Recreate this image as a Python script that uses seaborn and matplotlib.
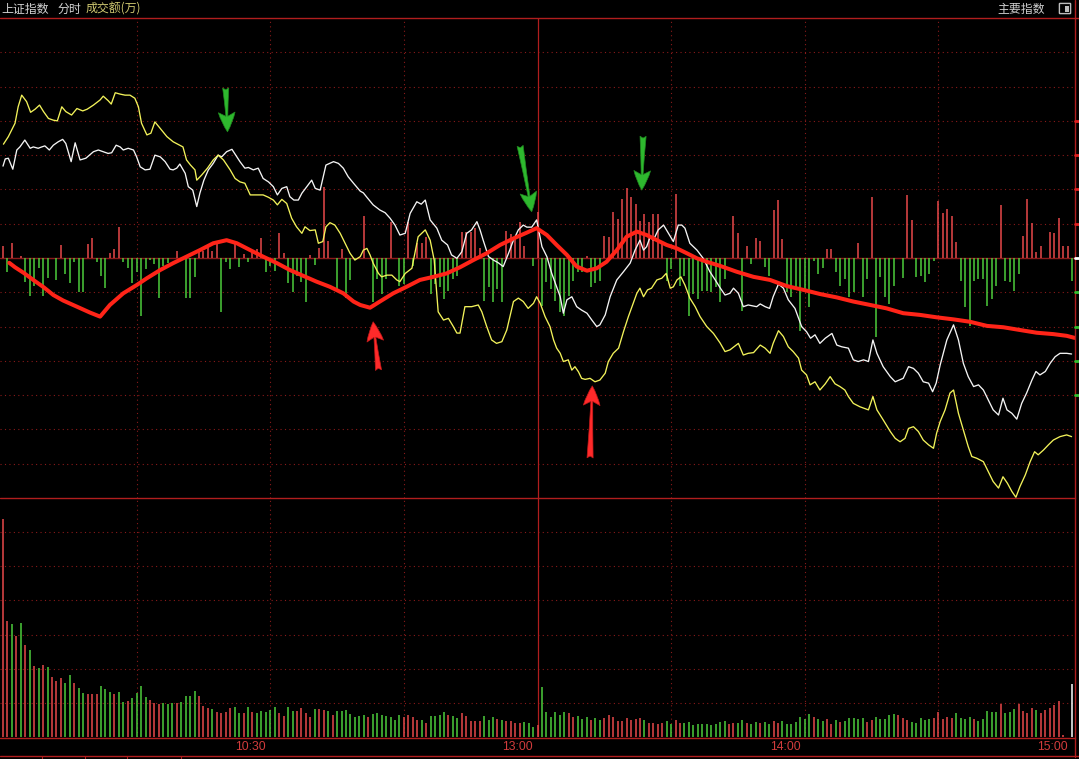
import numpy as np
import pandas as pd
import matplotlib
matplotlib.use("Agg")
import matplotlib.pyplot as plt
from matplotlib.patches import FancyBboxPatch, Rectangle, Arc
import seaborn as sns

sns.set_style("dark", {"axes.facecolor": "black", "figure.facecolor": "black"})
plt.rcParams["font.family"] = ["Noto Sans CJK SC", "DejaVu Sans"]

# ---- data: minutes after 09:30 (120 = 11:30/13:00, 240 = 15:00) ----
WHITE_T = [0, 0.5, 1.2, 2.2, 3.1, 3.8, 4.9, 6.1, 6.8, 7.9, 8.7, 9.4, 10.4, 11.3, 12.4, 13.4, 14.1,
           15.3, 16.2, 17.3, 18.6, 20.3, 21.4, 22.5, 23.6, 24.4, 25.4, 26.3, 27.0, 28.1, 29.3, 30.0,
           30.8, 31.9, 33.0, 34.1, 35.3, 36.4, 37.5, 38.2, 39.0, 39.7, 40.9, 41.6, 42.6, 43.5, 44.2,
           45.1, 46.1, 47.2, 48.3, 49.1, 50.2, 51.4, 52.5, 53.2, 54.3, 55.1, 56.2, 57.3, 58.4, 59.6,
           60.7, 61.6, 62.6, 63.7, 64.4, 65.3, 66.3, 67.1, 68.2, 69.3, 70.1, 71.2, 72.5, 74.2, 75.3,
           76.4, 77.5, 78.7, 80.2, 80.9, 81.7, 83.1, 84.6, 85.8, 86.9, 88.0, 89.1, 90.3, 91.4, 92.9,
           93.9, 94.8, 95.9, 97.4, 98.5, 99.8, 100.7, 101.9, 103.0, 104.1, 105.2, 106.4, 107.1, 107.8,
           109.0, 110.1, 111.2, 112.3, 113.5, 114.6, 115.7, 116.8, 117.6, 118.7, 119.8, 121.0, 122.1,
           123.2, 124.3, 125.1, 125.8, 126.6, 127.7, 128.8, 129.9, 131.1, 132.2, 133.3, 134.0, 135.2,
           136.3, 137.8, 139.3, 140.8, 141.9, 143.0, 143.8, 144.5, 145.3, 146.0, 147.1, 148.3, 149.4,
           150.5, 151.6, 152.4, 153.1, 154.2, 155.8, 157.2, 158.7, 159.9, 161.0, 162.1, 163.2, 164.0,
           165.1, 166.2, 167.3, 168.5, 169.2, 170.0, 171.1, 172.1, 172.9, 174.1, 175.2, 176.3, 177.8,
           179.3, 180.4, 181.3, 182.3, 183.4, 184.6, 186.1, 187.2, 188.3, 189.8, 190.9, 192.0, 193.2,
           194.3, 195.3, 196.2, 197.6, 199.2, 200.3, 202.1, 203.3, 204.4, 205.5, 206.6, 207.8, 208.7,
           209.5, 210.4, 211.9, 213.4, 214.5, 215.6, 216.7, 217.9, 219.0, 220.1, 221.2, 222.3, 223.5,
           224.5, 225.4, 226.5, 227.6, 228.7, 229.8, 231.0, 231.9, 232.8, 234.0, 235.1, 236.2, 237.3,
           238.8, 239.9]
WHITE_V = [2.68, 2.89, 2.91, 2.59, 3.15, 3.24, 3.44, 3.20, 3.24, 3.20, 3.24, 3.27, 3.15, 3.29, 3.39,
           3.46, 3.34, 2.81, 3.36, 2.86, 2.91, 3.10, 3.15, 3.10, 3.05, 3.07, 3.29, 3.24, 3.15, 3.20,
           3.15, 2.95, 2.66, 2.57, 2.59, 3.00, 2.95, 2.81, 2.59, 2.57, 2.62, 2.74, 2.47, 2.08, 1.98,
           1.50, 1.89, 2.27, 2.57, 2.76, 3.00, 2.95, 3.10, 3.17, 2.95, 2.81, 2.62, 2.64, 2.57, 2.62,
           2.32, 2.22, 2.08, 1.84, 2.03, 2.08, 1.79, 1.69, 1.69, 1.89, 2.08, 2.27, 2.03, 1.98, 2.71,
           2.81, 2.76, 2.62, 2.37, 2.18, 1.95, 1.90, 1.77, 1.55, 1.40, 1.32, 1.16, 0.96, 0.67, 0.72,
           1.30, 1.64, 1.57, 1.69, 1.11, 0.87, 0.52, 0.38, 0.09, -0.01, 0.18, 0.72, 0.82, 1.06, 0.82,
           0.52, 0.04, -0.06, -0.14, -0.25, 0.14, 0.52, 0.82, 0.96, 0.90, 0.90, 1.11, 0.33, 0.04,
           -0.45, -0.84, -1.13, -1.61, -1.22, -1.13, -1.42, -1.52, -1.61, -1.81, -2.00, -1.95, -1.66,
           -1.13, -0.64, -0.40, -0.15, 0.23, 0.52, 0.23, 0.33, 0.62, 0.52, 0.82, 0.96, 0.72, 0.48,
           0.96, 0.96, 0.87, 0.43, 0.23, -0.01, -0.40, -0.64, -0.87, -1.08, -1.03, -0.88, -1.03,
           -1.42, -1.37, -1.40, -1.42, -1.34, -1.42, -1.47, -1.13, -0.76, -0.88, -1.22, -1.47, -2.00,
           -2.15, -2.34, -2.24, -2.49, -2.34, -2.20, -2.54, -2.59, -2.63, -2.97, -3.02, -2.97, -3.02,
           -2.39, -2.78, -3.17, -3.46, -3.61, -3.51, -3.17, -3.22, -3.36, -3.61, -3.65, -3.90, -3.65,
           -3.12, -2.39, -1.95, -2.39, -3.07, -3.46, -3.75, -3.70, -3.85, -4.14, -4.43, -4.58, -4.09,
           -4.43, -4.53, -4.70, -4.24, -3.94, -3.56, -3.31, -3.41, -3.31, -3.07, -2.88, -2.78, -2.78,
           -2.80]

YELLOW_T = [0.1, 1.2, 2.7, 3.4, 4.2, 5.3, 6.2, 7.2, 8.2, 9.1, 10.2, 11.3, 12.2, 13.2, 14.1, 15.4,
            16.6, 17.9, 18.9, 20.3, 21.8, 22.5, 23.6, 24.3, 25.2, 26.3, 27.4, 28.5, 29.6, 30.4,
            31.1, 32.3, 33.2, 34.1, 35.3, 36.8, 38.2, 40.4, 41.2, 42.1, 43.1, 43.5, 44.6, 45.9,
            47.2, 48.3, 49.5, 51.0, 52.1, 53.2, 54.3, 55.5, 57.0, 58.4, 59.6, 60.7, 61.6, 62.6,
            63.7, 64.8, 65.9, 67.1, 67.8, 68.9, 70.1, 70.8, 71.8, 72.5, 73.4, 74.5, 75.7, 76.8,
            77.9, 79.0, 80.2, 80.9, 81.7, 82.4, 83.1, 84.3, 85.0, 86.2, 87.3, 88.4, 89.1, 90.3,
            91.8, 93.2, 94.8, 95.9, 96.8, 97.7, 98.9, 100.0, 101.1, 101.9, 102.6, 103.7, 105.2,
            106.7, 107.5, 108.6, 109.7, 110.8, 112.0, 113.1, 114.6, 115.7, 116.8, 117.9, 119.1,
            119.8, 120.6, 121.7, 122.8, 123.6, 124.3, 125.1, 125.8, 126.9, 127.7, 128.4, 129.2,
            129.9, 130.7, 131.8, 132.9, 134.0, 135.2, 135.9, 137.0, 138.2, 139.3, 140.4, 141.5,
            142.3, 143.0, 143.8, 144.7, 145.6, 146.8, 147.9, 148.9, 149.8, 150.5, 151.3, 152.2,
            153.1, 154.2, 155.4, 156.5, 158.0, 159.5, 161.0, 162.1, 163.2, 165.1, 166.2, 167.3,
            168.5, 170.0, 171.1, 172.2, 172.9, 174.1, 175.2, 176.3, 177.4, 178.6, 179.3, 180.4,
            181.2, 182.3, 183.4, 184.6, 185.7, 186.8, 187.9, 189.0, 189.8, 190.9, 192.4, 194.3,
            195.3, 196.2, 197.6, 199.2, 200.3, 201.4, 202.5, 203.3, 204.4, 205.5, 206.6, 207.8,
            208.9, 209.6, 210.4, 211.5, 212.6, 213.4, 214.5, 215.6, 216.7, 217.5, 218.6, 220.1,
            221.2, 222.3, 223.5, 224.5, 225.5, 226.5, 227.4, 228.3, 229.5, 230.6, 231.6, 232.4,
            233.6, 234.7, 235.8, 237.3, 238.8, 239.9]
YELLOW_V = [3.32, 3.54, 3.93, 4.41, 4.75, 4.56, 4.25, 4.34, 4.46, 4.27, 4.07, 4.02, 4.00, 4.41,
            4.27, 4.17, 4.36, 4.29, 4.34, 4.46, 4.61, 4.72, 4.59, 4.49, 4.82, 4.78, 4.75, 4.75,
            4.66, 4.41, 3.93, 3.59, 3.64, 3.97, 3.78, 3.54, 3.39, 3.24, 2.86, 2.71, 2.57, 2.27,
            2.42, 2.62, 2.86, 3.00, 2.86, 2.57, 2.32, 2.22, 2.18, 1.84, 1.84, 1.84, 1.77, 1.69,
            1.55, 1.71, 1.59, 1.16, 0.91, 0.72, 0.91, 0.80, 0.82, 0.43, 0.48, 0.91, 1.03, 0.96,
            0.72, 0.43, 0.14, -0.06, 0.04, 0.23, 0.28, 0.09, -0.15, -0.45, -0.55, -0.50, -0.50,
            -0.64, -0.69, -0.45, -0.30, 0.62, 0.82, 0.52, -0.06, -1.57, -1.81, -1.76, -2.00, -2.19,
            -2.19, -1.42, -1.42, -1.37, -1.57, -2.00, -2.39, -2.49, -2.44, -2.10, -1.27, -1.17,
            -1.27, -1.47, -1.32, -1.13, -1.32, -1.71, -2.00, -2.39, -2.63, -2.78, -3.02, -2.97,
            -3.27, -3.17, -3.32, -3.51, -3.54, -3.51, -3.61, -3.56, -3.36, -3.02, -2.78, -2.63,
            -2.15, -1.71, -1.32, -1.03, -0.88, -1.13, -0.93, -0.88, -0.64, -0.59, -0.45, -0.88,
            -0.84, -0.64, -0.55, -0.79, -1.17, -1.42, -1.71, -2.00, -2.20, -2.48, -2.73, -2.68,
            -2.49, -2.83, -2.78, -2.76, -2.54, -2.63, -2.78, -2.49, -2.12, -2.29, -2.59, -2.73,
            -2.92, -3.27, -3.41, -3.70, -3.61, -3.85, -3.67, -3.46, -3.67, -3.75, -3.85, -4.04,
            -4.24, -4.34, -4.43, -4.04, -4.43, -4.72, -5.06, -5.26, -5.36, -5.26, -4.97, -4.92,
            -5.06, -5.31, -5.45, -5.55, -5.11, -4.77, -4.43, -3.94, -3.85, -4.53, -5.01, -5.50,
            -5.79, -5.84, -5.94, -6.23, -6.52, -6.71, -6.38, -6.57, -6.81, -6.98, -6.67, -6.33,
            -5.94, -5.65, -5.74, -5.60, -5.45, -5.31, -5.21, -5.16, -5.21]

RED_T = [1.4, 2.7, 4.6, 6.8, 9.1, 11.3, 13.5, 16.6, 19.5, 21.8, 24.0, 27.0, 30.0, 32.3, 35.3, 38.2,
         41.2, 44.2, 47.2, 50.2, 52.5, 55.5, 58.4, 61.5, 64.4, 67.4, 70.4, 73.4, 76.4, 78.7, 80.2,
         82.4, 84.6, 87.6, 90.6, 93.6, 96.6, 99.6, 102.6, 105.6, 108.6, 111.6, 114.6, 117.6,
         119.8, 122.1, 124.3, 126.6, 128.8, 131.1, 133.3, 135.5, 137.8, 140.0, 142.3, 144.5,
         146.8, 149.0, 151.3, 153.5, 155.8, 158.0, 161.0, 164.7, 168.5, 172.2, 176.0, 179.7,
         183.4, 187.2, 190.9, 194.7, 198.4, 202.1, 205.9, 209.6, 213.4, 217.1, 220.9, 224.6,
         228.3, 232.1, 235.8, 238.8, 240.6]
RED_V = [-0.14, -0.27, -0.43, -0.64, -0.85, -1.08, -1.24, -1.42, -1.59, -1.71, -1.37, -1.03, -0.79,
         -0.59, -0.35, -0.15, 0.04, 0.23, 0.43, 0.52, 0.43, 0.23, 0.04, -0.15, -0.35, -0.52, -0.69,
         -0.84, -1.03, -1.27, -1.37, -1.45, -1.27, -1.03, -0.84, -0.64, -0.55, -0.45, -0.27, -0.06,
         0.14, 0.38, 0.57, 0.74, 0.87, 0.67, 0.38, 0.09, -0.25, -0.37, -0.30, -0.11, 0.23, 0.62,
         0.77, 0.67, 0.52, 0.38, 0.28, 0.14, -0.01, -0.11, -0.23, -0.40, -0.55, -0.64, -0.82, -0.93,
         -1.05, -1.15, -1.27, -1.37, -1.47, -1.61, -1.66, -1.73, -1.79, -1.86, -1.98, -2.02, -2.10,
         -2.18, -2.22, -2.27, -2.33]

UP_T = [0, 2, 4, 13, 19, 20, 24, 25, 26, 39, 44, 45, 46, 47, 48, 52, 54, 56, 57, 58, 62, 63, 69,
        71, 72, 73, 76, 81, 87, 91, 93, 94, 95, 103, 104, 105, 106, 107, 113, 114, 115, 116, 117,
        120, 131, 135, 136, 137, 138, 139, 140, 141, 142, 143, 144, 145, 146, 147, 148, 151, 164,
        165, 167, 169, 170, 173, 174, 175, 185, 186, 192, 195, 203, 204, 210, 211, 212, 213, 214,
        224, 229, 230, 231, 232, 233, 235, 236, 237, 238, 239]
UP_V = [0.34, 0.44, 0.07, 0.38, 0.41, 0.58, 0.15, 0.26, 0.89, 0.21, 0.17, 0.21, 0.38, 0.21, 0.46,
        0.46, 0.12, 0.21, 0.26, 0.57, 0.73, 0.15, 0.10, 0.28, 2.07, 0.50, 0.26, 1.23, 1.04, 1.04,
        0.44, 0.44, 0.60, 0.77, 0.75, 0.75, 0.87, 0.28, 0.80, 0.70, 0.55, 1.04, 0.36, 1.33, 0.07,
        0.65, 0.60, 1.33, 1.14, 1.72, 2.03, 1.77, 1.57, 1.09, 1.28, 1.04, 1.28, 1.28, 0.41, 1.87,
        1.23, 0.73, 0.36, 0.57, 0.50, 1.40, 1.69, 0.55, 0.26, 0.26, 0.44, 1.79, 1.84, 1.12, 1.65,
        1.31, 1.43, 1.23, 0.48, 1.55, 0.63, 1.72, 1.01, 0.18, 0.36, 0.75, 0.73, 1.16, 0.36, 0.36]

DOWN_T = [1, 5, 6, 7, 8, 9, 10, 12, 14, 15, 16, 17, 18, 21, 22, 23, 27, 28, 29, 30, 31, 32, 33, 34,
          35, 36, 37, 41, 42, 43, 49, 50, 51, 53, 55, 59, 60, 61, 64, 65, 66, 67, 68, 70, 75, 77,
          78, 79, 83, 84, 85, 86, 89, 90, 92, 96, 97, 98, 99, 100, 101, 102, 108, 109, 110, 111,
          112, 119, 121, 122, 123, 124, 125, 126, 127, 128, 129, 130, 132, 133, 134, 149, 150,
          152, 153, 154, 155, 156, 157, 158, 159, 160, 161, 162, 166, 168, 171, 172, 176, 177,
          178, 179, 180, 181, 182, 183, 184, 187, 188, 189, 190, 191, 193, 194, 196, 197, 198,
          199, 200, 202, 205, 206, 207, 208, 209, 215, 216, 217, 218, 219, 220, 221, 222, 223,
          225, 226, 227, 228, 240]
DOWN_V = [-0.40, -0.69, -1.12, -0.81, -0.30, -1.12, -0.59, -0.63, -0.47, -0.73, -0.11, -0.98, -0.98,
          -0.11, -0.53, -0.88, -0.11, -0.30, -0.73, -0.40, -1.70, -0.32, -0.06, -0.17, -1.17,
          -0.24, -0.15, -1.17, -1.17, -0.56, -1.58, -0.11, -0.32, -0.27, -0.13, -0.42, -0.24,
          -0.37, -0.73, -1.00, -0.53, -0.69, -1.27, -0.20, -0.90, -1.17, -0.63, -0.05, -1.29,
          -0.61, -1.05, -0.61, -0.81, -0.76, -0.24, -1.05, -0.76, -0.85, -1.20, -0.95, -0.61,
          -0.52, -1.24, -0.85, -1.29, -0.90, -1.29, -0.24, -1.39, -0.71, -0.90, -1.24, -1.58,
          -1.68, -1.10, -0.66, -0.42, -0.42, -0.85, -0.73, -0.66, -0.66, -0.32, -0.81, -0.52,
          -1.68, -1.05, -1.20, -0.95, -0.95, -1.00, -0.85, -1.29, -0.61, -1.54, -0.17, -0.27,
          -0.52, -1.00, -1.15, -0.85, -2.12, -0.90, -1.44, -0.08, -0.47, -0.30, -0.42, -0.81,
          -0.61, -1.15, -1.00, -1.15, -0.61, -2.31, -0.56, -1.15, -1.34, -0.81, -0.59, -0.56,
          -0.52, -0.71, -0.47, -0.08, -0.66, -1.44, -1.97, -0.66, -0.61, -0.61, -1.39, -1.20,
          -0.81, -0.66, -0.71, -0.95, -0.47, -0.66]

VOLUME = [6.39, 3.40, 3.31, 2.97, 3.34, 2.70, 2.55, 2.08, 2.01, 2.11,
          2.04, 1.76, 1.64, 1.72, 1.58, 1.82, 1.58, 1.44, 1.29, 1.26,
          1.26, 1.26, 1.50, 1.41, 1.32, 1.26, 1.32, 1.03, 1.06, 1.14,
          1.29, 1.50, 1.17, 1.08, 1.00, 0.97, 1.00, 0.97, 1.00, 1.00,
          1.03, 1.20, 1.20, 1.35, 1.20, 0.91, 0.85, 0.82, 0.73, 0.70,
          0.73, 0.85, 0.88, 0.70, 0.70, 0.88, 0.73, 0.70, 0.76, 0.73,
          0.79, 0.88, 0.70, 0.62, 0.88, 0.76, 0.76, 0.85, 0.70, 0.59,
          0.82, 0.82, 0.79, 0.76, 0.65, 0.76, 0.76, 0.79, 0.67, 0.59,
          0.62,
          0.65, 0.58, 0.67, 0.69, 0.65, 0.62, 0.58, 0.50, 0.65, 0.58,
          0.65, 0.58, 0.50, 0.50, 0.40, 0.62, 0.62, 0.65, 0.73, 0.65,
          0.62, 0.55, 0.69, 0.62, 0.47, 0.47, 0.47, 0.62, 0.50, 0.58,
          0.52, 0.50, 0.47, 0.47, 0.42, 0.42, 0.44, 0.42, 0.30, 0.35,
          1.46, 0.73, 0.58, 0.73, 0.65, 0.73, 0.69, 0.58, 0.62, 0.52,
          0.58, 0.50, 0.55, 0.50, 0.55, 0.65, 0.58, 0.47, 0.47, 0.55,
          0.50, 0.52, 0.55, 0.49, 0.42, 0.42, 0.38, 0.42, 0.47, 0.38,
          0.49, 0.42, 0.42, 0.44, 0.35, 0.38, 0.38, 0.38, 0.35, 0.38,
          0.44, 0.47, 0.38, 0.42, 0.42, 0.50, 0.42, 0.38, 0.44, 0.42,
          0.44, 0.38, 0.47, 0.42, 0.47, 0.38, 0.38, 0.44, 0.58, 0.52,
          0.67, 0.58, 0.52, 0.47, 0.52, 0.38, 0.50, 0.44, 0.47, 0.55,
          0.55, 0.52, 0.55, 0.44, 0.50, 0.58, 0.52, 0.52, 0.65, 0.67,
          0.65, 0.55, 0.50, 0.44, 0.40, 0.55, 0.50, 0.52, 0.55, 0.73,
          0.52, 0.58, 0.55, 0.69, 0.55, 0.52, 0.58, 0.52, 0.47, 0.52,
          0.76, 0.73, 0.73, 0.97, 0.69, 0.73, 0.81, 0.97, 0.76, 0.69,
          0.84, 0.79, 0.69, 0.79, 0.84, 0.94, 1.05, 0.06, 0.00, 1.55]
VOLUME_COLOR = ("rrgrgrgrgr" "grrrggrggr" "rrgggrggrg" "gggrrrgggr" "ggggrrrgrr"
                "rrggrgrggg" "ggrrggrrrr" "grrgrggggg" "g"
                "grgggggggr" "rrrgrggggr" "ggrrrrrggg" "rgrrrrgggr"
                "ggggggrrgg" "grggrrrrrr" "rrrgrrrrgg" "rrgggggggg" "ggrrggrggr"
                "ggrrgggggg" "grggrrgrgg" "gggrrggggg" "rrrgggggrr" "rrrggggrgg"
                "gggrgggrrr" "rgrrrrrr" "r" "w")

TIME_TICKS = [60, 120, 180, 240]
TIME_LABELS = ["10:30", "13:00", "14:00", "15:00"]

# hand-drawn arrows: (tail minute, tail value, tip minute, tip value)
ARROWS_DOWN = [(50.0, 4.96, 50.4, 3.68), (116.1, 3.27, 118.7, 1.35), (143.7, 3.55, 143.4, 1.98)]
ARROWS_UP = [(84.3, -3.27, 83.1, -1.86), (131.8, -5.83, 132.3, -3.73)]

# ---- colours ----
BG = "black"
GRID = "#8a1a1a"
FRAME = "#b01e1e"
BAR_RED = "#e8484a"
BAR_GREEN = "#4ccc3c"
W, H = 1079, 759

fig = plt.figure(figsize=(W / 100, H / 100), dpi=100, facecolor=BG)
XL = (-0.674, 240.67)


def panel(top, bottom):
    return fig.add_axes([0, 1 - bottom / H, 1075 / W, (bottom - top) / H])


def grid(ax, rows):
    for r in rows:
        ax.axhline(r, color=GRID, lw=0.8, ls=(0, (1, 3)), zorder=0)
    for c in (30, 60, 90, 150, 180, 210):
        ax.axvline(c, color=GRID, lw=0.8, ls=(0, (1, 3)), zorder=0)
    ax.axvline(120, color=FRAME, lw=0.9, zorder=0)
    ax.set_xlim(*XL)
    ax.set_xticks([]); ax.set_yticks([])
    for s in ax.spines.values():
        s.set_visible(False)
    ax.set_facecolor(BG)


# ---- main (price) panel ----
ax = panel(18, 498)
ax.set_ylim(-7, 7)
grid(ax, [r for r in range(-6, 7) if r != 0])
ax.axhline(0, color=GRID, lw=1.0, zorder=0)
ax.vlines(UP_T, 0, UP_V, colors=BAR_RED, lw=1.1, zorder=1)
ax.vlines(DOWN_T, 0, DOWN_V, colors=BAR_GREEN, lw=1.1, zorder=1)
sns.lineplot(x=WHITE_T, y=WHITE_V, ax=ax, color="#f4f4f4", lw=0.95, estimator=None, zorder=3)
sns.lineplot(x=YELLOW_T, y=YELLOW_V, ax=ax, color="#f2f25a", lw=0.95, estimator=None, zorder=3)
sns.lineplot(x=RED_T, y=RED_V, ax=ax, color="#ff2418", lw=2.9, estimator=None, zorder=4)
ax.set_xlim(*XL); ax.set_ylim(-7, 7)
ax.set_xlabel(""); ax.set_ylabel("")

ARROW = "fancy,head_length=0.7,head_width=0.6,tail_width=0.22"
for x0, y0, x1, y1 in ARROWS_DOWN:
    ax.annotate("", xy=(x1, y1), xytext=(x0, y0), zorder=6,
                arrowprops=dict(arrowstyle=ARROW, fc="#2eb82e", ec="#1f8a1f", lw=0.5,
                                shrinkA=0, shrinkB=0, mutation_scale=20))
for x0, y0, x1, y1 in ARROWS_UP:
    ax.annotate("", xy=(x1, y1), xytext=(x0, y0), zorder=6,
                arrowprops=dict(arrowstyle=ARROW, fc="#ff2a2a", ec="#c01818", lw=0.5,
                                shrinkA=0, shrinkB=0, mutation_scale=20))

# ---- volume panel ----
av = panel(498, 737)
av.set_ylim(0, 7)
grid(av, range(1, 7))
cmap = {"r": BAR_RED, "g": BAR_GREEN, "w": "white"}
minutes = np.arange(len(VOLUME))
av.vlines(minutes, 0, VOLUME, colors=[cmap[c] for c in VOLUME_COLOR], lw=1.1, zorder=2)

# ---- frame, header and time axis (pixel overlay) ----
ov = fig.add_axes([0, 0, 1, 1], zorder=10)
ov.set_xlim(0, W); ov.set_ylim(H, 0); ov.axis("off"); ov.patch.set_alpha(0)
ov.plot([0, W], [18, 18], color=FRAME, lw=1.0)
ov.plot([1075, 1075], [0, 757], color=FRAME, lw=1.0)
ov.plot([0, 1075], [498, 498], color=FRAME, lw=1.0)
ov.plot([0, 1075], [737.5, 737.5], color=FRAME, lw=1.0)
ov.plot([0, W], [756, 756], color=FRAME, lw=1.0)
for xt in (42, 85, 127, 181):
    ov.plot([xt, xt], [756, 759], color=FRAME, lw=0.8)
ov.add_patch(Arc((12, 770), 30, 30, theta1=0, theta2=180, color="#e02020", lw=2))
for k in range(1, 5):
    ov.plot([1075, 1079], [258 - 34.3 * k] * 2, color="#e02020", lw=2)
    ov.plot([1075, 1079], [258 + 34.3 * k] * 2, color="#30c030", lw=2)
ov.plot([1075, 1079], [258, 258], color="white", lw=2)

ov.text(1, 9, "上证指数", color="#d4d4d4", fontsize=8.6, va="center", ha="left")
ov.text(58, 9, "分时", color="#d4d4d4", fontsize=8.6, va="center", ha="left")
ov.text(86, 9, "成交额(万)", color="#cfc870", fontsize=8.6, va="center", ha="left")
ov.text(1045, 9, "主要指数", color="#cfcfcf", fontsize=8.6, va="center", ha="right")
ov.add_patch(FancyBboxPatch((1060, 4), 10, 9, boxstyle="round,pad=0.6", fc="none",
                            ec="#bdbdbd", lw=1.0))
ov.add_patch(Rectangle((1065, 5.5), 3.5, 6, fc="#bdbdbd", ec="none"))

for t, lab in zip(TIME_TICKS, TIME_LABELS):
    av.text(t - 1, -0.3, lab, transform=av.transData,
            color="#d23c3c", fontsize=8.8, ha="right", va="center",
            family=["Liberation Sans", "DejaVu Sans"], clip_on=False)

fig.savefig("out.png", dpi=100, facecolor=BG)
